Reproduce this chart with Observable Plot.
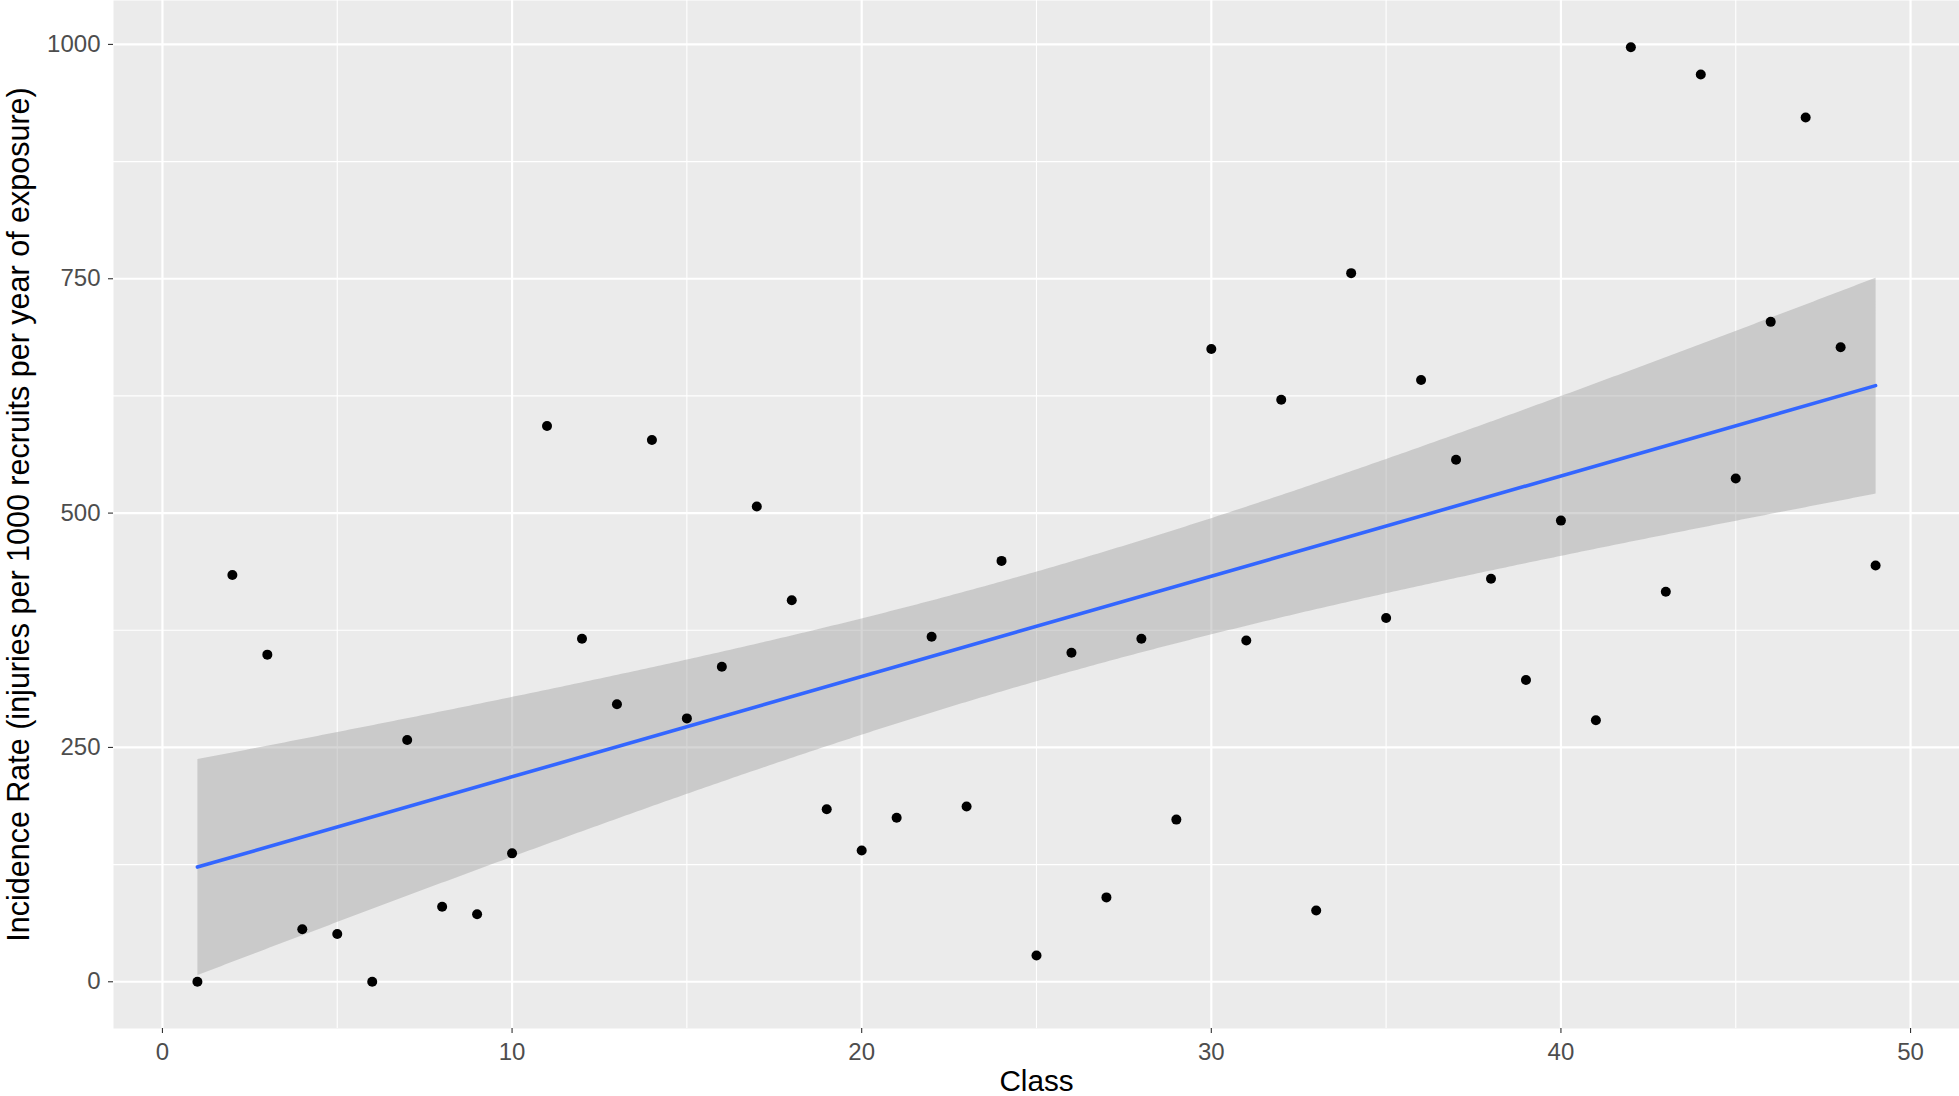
<!DOCTYPE html>
<html>
<head>
<meta charset="utf-8">
<script src="https://cdn.jsdelivr.net/npm/d3@7"></script>
<script src="https://cdn.jsdelivr.net/npm/@observablehq/plot@0.6"></script>
<style>
  html, body { margin: 0; padding: 0; background: #ffffff; }
  #chart svg { display: block; }
</style>
</head>
<body>
<div id="chart"></div>
<script>
// Data
const classes = [1,2,3,4,5,6,7,8,9,10,11,12,13,14,15,16,17,18,19,20,21,22,23,24,25,26,27,28,29,30,31,32,33,34,35,36,37,38,39,40,41,42,43,44,45,46,47,48,49];
const incidence = [0,434,349,56,51,0,258,80,72,137,
                   593,366,296,578,281,336,507,407,184,140,
                   175,368,187,449,28,351,90,366,173,675,
                   364,621,76,756,388,642,557,430,322,492,
                   279,997,416,968,537,704,922,677,444];
const xTicks = [0,10,20,30,40,50];
const xMinor = [5,15,25,35,45];
const yTicks = [0,250,500,750,1000];
const yMinor = [125,375,625,875];
const xTitle = "Class";
const yTitle = "Incidence Rate (injuries per 1000 recruits per year of exposure)";

const data = classes.map((c, i) => ({cls: c, rate: incidence[i]}));

// ggplot-style 5% expansion of the data range
function expand(ext) { const d = (ext[1] - ext[0]) * 0.05; return [ext[0] - d, ext[1] + d]; }
const xDomain = expand(d3.extent(classes));
const yDomain = expand(d3.extent(incidence));

const font = "'Liberation Sans', Arial, sans-serif";

const chart = Plot.plot({
  width: 1959,
  height: 1096,
  marginLeft: 113,
  marginRight: 0,
  marginTop: 0,
  marginBottom: 68,
  style: {fontFamily: font, background: "#ffffff", color: "#333333"},
  x: {domain: xDomain, label: null},
  y: {domain: yDomain, label: null},
  marks: [
    Plot.frame({fill: "#EBEBEB", stroke: "none"}),
    Plot.gridX(xMinor, {stroke: "#ffffff", strokeOpacity: 1, strokeWidth: 1.1}),
    Plot.gridY(yMinor, {stroke: "#ffffff", strokeOpacity: 1, strokeWidth: 1.1}),
    Plot.gridX(xTicks, {stroke: "#ffffff", strokeOpacity: 1, strokeWidth: 2.2}),
    Plot.gridY(yTicks, {stroke: "#ffffff", strokeOpacity: 1, strokeWidth: 2.2}),
    Plot.linearRegressionY(data, {
      x: "cls", y: "rate", ci: 0.95,
      stroke: "#3366FF", strokeWidth: 3.6,
      fill: "#999999", fillOpacity: 0.4
    }),
    Plot.dot(data, {x: "cls", y: "rate", r: 5, fill: "#000000", stroke: "none"}),
    Plot.axisX(xTicks, {
      tickSize: 5, tickPadding: 9, fontSize: 24,
      stroke: "#333333", fill: "#4D4D4D", strokeWidth: 1.1,
      tickFormat: d => String(d), label: null
    }),
    Plot.axisY(yTicks, {
      tickSize: 5, tickPadding: 8, fontSize: 24,
      stroke: "#333333", fill: "#4D4D4D", strokeWidth: 1.1,
      tickFormat: d => String(d), label: null
    }),
    Plot.text([xTitle], {
      text: d => d, frameAnchor: "bottom", dy: 53, lineAnchor: "middle",
      textAnchor: "middle", fontSize: 29.7, fill: "#000000"
    }),
    Plot.text([yTitle], {
      text: d => d, frameAnchor: "left", dx: -94, rotate: -90, lineAnchor: "middle",
      textAnchor: "middle", fontSize: 30.5, fill: "#000000"
    })
  ]
});

document.getElementById("chart").appendChild(chart);
</script>
</body>
</html>
